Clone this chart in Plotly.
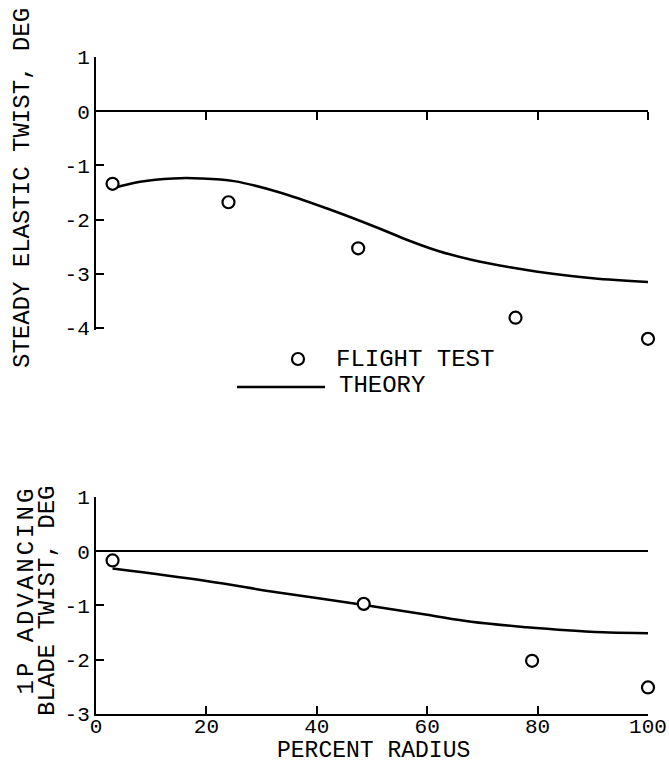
import plotly.graph_objects as go

# Steady elastic twist vs percent radius
steady_test_r = [3, 24, 47.5, 76, 100]
steady_test_twist = [-1.34, -1.68, -2.53, -3.81, -4.2]
steady_theory_r = [3, 8, 14, 19, 25, 33, 42, 51, 57, 62, 68, 75, 80, 90, 100]
steady_theory_twist = [-1.42, -1.3, -1.24, -1.24, -1.29, -1.49, -1.8, -2.15,
                       -2.40, -2.58, -2.74, -2.88, -2.96, -3.08, -3.15]

# 1P advancing blade twist vs percent radius
adv_test_r = [3, 48.5, 79, 100]
adv_test_twist = [-0.17, -0.97, -2.02, -2.51]
adv_theory_r = [3, 20, 33, 48, 60, 68, 78, 86, 93, 100]
adv_theory_twist = [-0.32, -0.55, -0.76, -0.98, -1.17, -1.30, -1.40, -1.46, -1.50, -1.51]

x_ticks = [0, 20, 40, 60, 80, 100]
steady_ticks = [1, 0, -1, -2, -3, -4]
adv_ticks = [1, 0, -1, -2, -3]

W, H = 669, 763
ML, MR, MT, MB = 96, 21, 57, 49
PW, PH = W - ML - MR, H - MT - MB

FONT = "Liberation Mono, Courier New, monospace"
INK = "black"

# upper panel: labelled span 1..-4 occupies the top 41.25% of the plot height;
# the range runs a little lower so the outermost test point stays visible
top_axis_span = [-4, 1]
top_range = [-4.45, 1]
unit = (1 - 0.5875) / (top_axis_span[1] - top_axis_span[0])
top_dom = [1 - unit * (top_range[1] - top_range[0]), 1.0]
bot_dom = [0.0, 0.3303]
bot_range = [-3, 1]


def px_x(px):
    return (px - ML) / PW


def px_y(py):
    return (H - MB - py) / PH


def top_paper(v):
    """Paper y of a value on the upper panel's vertical scale."""
    return top_dom[0] + (v - top_range[0]) / (top_range[1] - top_range[0]) * (top_dom[1] - top_dom[0])


zero_top = top_paper(0)

fig = go.Figure()

line_style = dict(color=INK, width=2.5, shape="spline", smoothing=1.0)
marker_style = dict(symbol="circle", size=12, color="white", line=dict(color=INK, width=2.2))

fig.add_trace(go.Scatter(x=steady_theory_r, y=steady_theory_twist, mode="lines",
                         line=line_style, xaxis="x", yaxis="y", showlegend=False))
fig.add_trace(go.Scatter(x=steady_test_r, y=steady_test_twist, mode="markers",
                         marker=marker_style, cliponaxis=False,
                         xaxis="x", yaxis="y", showlegend=False))
fig.add_trace(go.Scatter(x=adv_theory_r, y=adv_theory_twist, mode="lines",
                         line=line_style, xaxis="x2", yaxis="y2", showlegend=False))
fig.add_trace(go.Scatter(x=adv_test_r, y=adv_test_twist, mode="markers",
                         marker=marker_style, cliponaxis=False,
                         xaxis="x2", yaxis="y2", showlegend=False))

tick_font = dict(family=FONT, size=21, color=INK)

fig.update_layout(
    width=W, height=H,
    margin=dict(l=ML, r=MR, t=MT, b=MB, autoexpand=False),
    paper_bgcolor="white", plot_bgcolor="white",
    xaxis=dict(range=[0, 100], domain=[0, 1], anchor="free", position=zero_top,
               showline=True, linecolor=INK, linewidth=2,
               ticks="outside", ticklen=8, tickwidth=2, tickcolor=INK,
               tickvals=x_ticks[1:], showticklabels=False, automargin=False,
               showgrid=False, zeroline=False),
    yaxis=dict(range=top_range, domain=top_dom, anchor="x",
               showline=True, linecolor=INK, linewidth=2,
               ticks="inside", ticklen=8, tickwidth=2, tickcolor=INK,
               tickvals=steady_ticks, ticktext=[str(v) for v in steady_ticks],
               tickfont=tick_font, automargin=False, showgrid=False, zeroline=False),
    xaxis2=dict(range=[0, 100], domain=[0, 1], anchor="y2",
                showline=True, linecolor=INK, linewidth=2,
                ticks="inside", ticklen=8, tickwidth=2, tickcolor=INK,
                tickvals=x_ticks, ticktext=[str(v) for v in x_ticks],
                tickfont=tick_font, ticklabelstandoff=-8, automargin=False,
                showgrid=False, zeroline=False),
    yaxis2=dict(range=bot_range, domain=bot_dom, anchor="x2",
                showline=True, linecolor=INK, linewidth=2,
                ticks="inside", ticklen=8, tickwidth=2, tickcolor=INK,
                tickvals=adv_ticks, ticktext=[str(v) for v in adv_ticks],
                tickfont=tick_font, automargin=False, showgrid=False,
                zeroline=True, zerolinecolor=INK, zerolinewidth=2),
)

# the upper vertical axis stops at the last labelled value: blank out the stub below it
fig.add_shape(type="rect", xref="paper", yref="paper", layer="above",
              x0=px_x(92), x1=px_x(100),
              y0=top_dom[0] - 0.002, y1=top_paper(top_axis_span[0]) - 0.003,
              line=dict(width=0), fillcolor="white")

title_font = dict(family=FONT, size=24, color=INK)

annotations = [
    dict(text="STEADY ELASTIC TWIST, DEG", x=px_x(22), y=px_y(188), textangle=-90,
         xanchor="center", yanchor="middle"),
    dict(text='<span style="letter-spacing:3px">1P ADVANCING</span>',
         x=px_x(26), y=px_y(485), textangle=-90,
         xanchor="center", yanchor="top"),
    dict(text="BLADE TWIST, DEG", x=px_x(47), y=px_y(485), textangle=-90,
         xanchor="center", yanchor="top"),
    dict(text="PERCENT RADIUS", x=px_x(373), y=px_y(751),
         xanchor="center", yanchor="middle", font_size=23),
    dict(text="FLIGHT TEST", x=px_x(335), y=px_y(359),
         xanchor="left", yanchor="middle"),
    dict(text="THEORY", x=px_x(338), y=px_y(385),
         xanchor="left", yanchor="middle"),
]
for a in annotations:
    fs = a.pop("font_size", title_font["size"])
    a.update(xref="paper", yref="paper", showarrow=False, borderpad=0,
             font=dict(title_font, size=fs))
fig.update_layout(annotations=annotations)

# legend keys
fig.add_shape(type="circle", xref="paper", yref="paper",
              xsizemode="pixel", ysizemode="pixel",
              xanchor=px_x(298), yanchor=px_y(359),
              x0=-6, x1=6, y0=-6, y1=6,
              line=dict(color=INK, width=2.2), fillcolor="white")
fig.add_shape(type="line", xref="paper", yref="paper",
              x0=px_x(237), x1=px_x(325), y0=px_y(387), y1=px_y(387),
              line=dict(color=INK, width=2.5))

fig.write_html("out.html", config=dict(displayModeBar=False))
